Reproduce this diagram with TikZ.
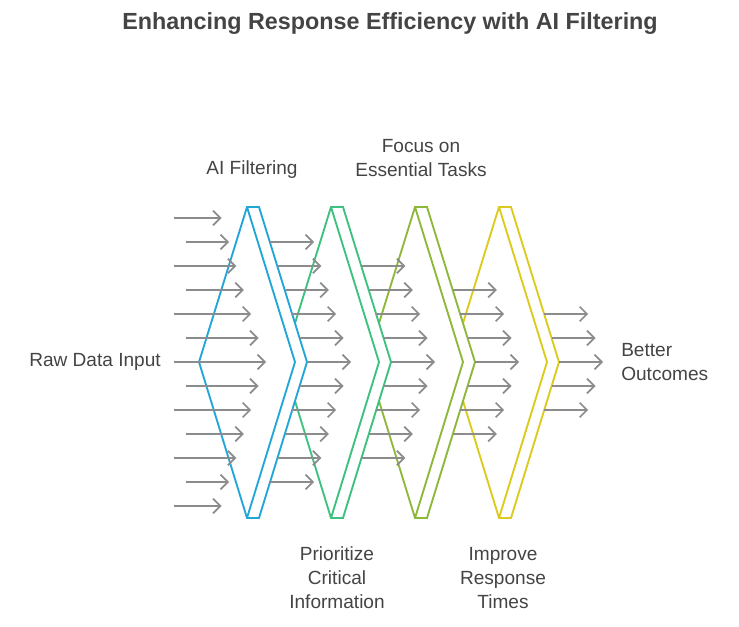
\documentclass[tikz,border=0pt]{standalone}
\usepackage{fontspec}
\setmainfont{Liberation Sans}
\usetikzlibrary{arrows.meta}
\definecolor{cblue}{HTML}{22A6D8}
\definecolor{cgreen}{HTML}{3CC27E}
\definecolor{colive}{HTML}{8DB83A}
\definecolor{cyel}{HTML}{DCCB1E}
\definecolor{tgray}{HTML}{444444}
\definecolor{agray}{HTML}{8C8C8C}
\begin{document}
\begin{tikzpicture}[x=0.75pt,y=-0.75pt,
  shp/.style={line width=1.4pt,fill=white,line join=miter},
  arr/.style={draw=agray,line width=1.3pt,-{Straight Barb[length=5.5pt,width=11pt,line width=1.3pt]}},
  lbl/.style={font=\fontsize{14.3}{18}\selectfont,text=tgray,align=center,inner sep=0pt}]
\useasboundingbox (0,0) rectangle (739,627);
\node[font=\bfseries\fontsize{17.5}{20}\selectfont,text=tgray] (title) at (390,24) {Enhancing Response Efficiency with AI Filtering};
\foreach \d/\c in {252/cyel,168/colive,84/cgreen,0/cblue}{
  \filldraw[shp,draw=\c] (247+\d,207)--(259+\d,207)--(307+\d,362)--(259+\d,518)--(247+\d,518)--(199+\d,362)--cycle;
  \draw[line width=1.4pt,draw=\c] (247+\d,207)--(295+\d,362)--(247+\d,518);
}
% column 1
\foreach \k in {-6,...,6}{
  \pgfmathsetmacro\yy{362+24*\k}
  \pgfmathsetmacro\ee{266-7.4*abs(\k)}
  \pgfmathsetmacro\ss{isodd(\k)?186:174}
  \draw[arr] (\ss,\yy) -- (\ee,\yy);
}
% other columns
\foreach \apex/\n in {307/5,391/4,475/3,559/2}{
  \foreach \k in {-\n,...,\n}{
    \pgfmathsetmacro\yy{362+24*\k}
    \pgfmathsetmacro\ss{\apex-7.4*abs(\k)}
    \draw[arr] (\ss,\yy) -- (\ss+44,\yy);
  }
}
\node[lbl] (l1) at (252,170) {AI Filtering};
\node[lbl] (l2) at (421,158) {Focus on\\Essential Tasks};
\node[lbl,anchor=east] (l0) at (161,362) {Raw Data Input};
\node[lbl,anchor=west,align=left] (l5) at (621,362) {Better\\Outcomes};
\node[lbl] (l3) at (337,578) {Prioritize\\Critical\\Information};
\node[lbl] (l4) at (503,578) {Improve\\Response\\Times};
\end{tikzpicture}
\end{document}
